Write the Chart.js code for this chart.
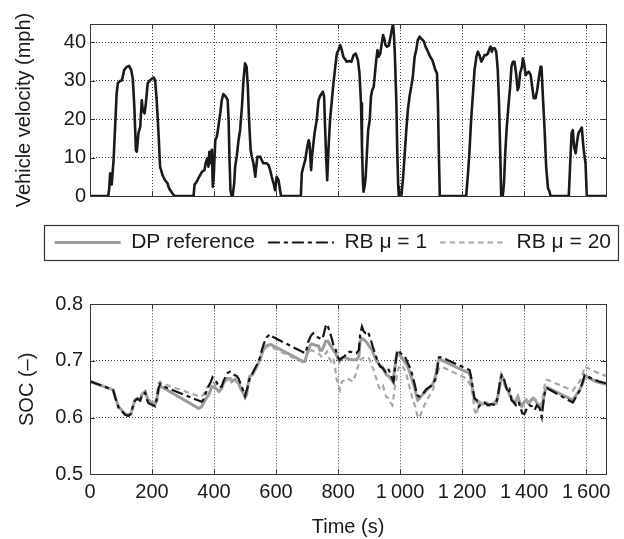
<!DOCTYPE html>
<html><head><meta charset="utf-8">
<script src="https://cdn.jsdelivr.net/npm/chart.js@4.4.1/dist/chart.umd.min.js"></script>
<style>
html,body{margin:0;padding:0;background:#fff;overflow:hidden;width:624px;height:539px}
#c1{position:absolute;left:0;top:0}
#c2{position:absolute;left:0;top:200px}
</style></head><body>
<canvas id="c1" width="624" height="215" style="width:624px;height:215px"></canvas>
<canvas id="c2" width="624" height="339" style="width:624px;height:339px"></canvas>
<script>
// ---- data ----
const velTime = [
 0, 59, 62, 65, 68, 70, 72, 76, 81, 86,
 90, 97, 103, 110, 119, 126, 133, 138, 143, 148,
 151, 156, 162, 167, 170, 176, 180, 186, 194, 205,
 210, 215, 221, 226, 234, 242, 250, 255, 262, 269,
 275, 334, 337, 344, 352, 361, 369, 373, 378, 382,
 385, 389, 393, 396, 399, 404, 409, 414, 420, 425,
 430, 436, 441, 444, 447, 450, 453, 457, 460, 465,
 468, 473, 479, 484, 490, 495, 500, 505, 509, 513,
 518, 522, 527, 533, 536, 540, 549, 554, 559, 570,
 576, 581, 586, 592, 597, 602, 608, 613, 616, 680,
 683, 688, 694, 699, 705, 708, 713, 717, 724, 731,
 737, 742, 751, 755, 758, 762, 765, 769, 774, 780,
 785, 791, 796, 801, 807, 812, 817, 828, 837, 843,
 850, 857, 864, 869, 874, 877, 880, 882, 886, 889,
 893, 897, 902, 906, 910, 915, 919, 923, 927, 931,
 936, 940, 945, 949, 953, 958, 964, 968, 973, 977,
 980, 983, 988, 991, 994, 996, 1004, 1009, 1015, 1020,
 1025, 1031, 1036, 1041, 1047, 1052, 1057, 1063, 1068, 1076,
 1082, 1090, 1097, 1104, 1109, 1114, 1119, 1122, 1125, 1128,
 1213, 1219, 1224, 1229, 1235, 1240, 1246, 1251, 1256, 1262,
 1267, 1272, 1278, 1283, 1289, 1292, 1296, 1299, 1305, 1310,
 1315, 1319, 1323, 1326, 1331, 1335, 1339, 1344, 1351, 1355,
 1359, 1364, 1369, 1374, 1379, 1383, 1387, 1393, 1396, 1400,
 1405, 1409, 1415, 1421, 1426, 1431, 1437, 1442, 1448, 1453,
 1456, 1460, 1466, 1471, 1477, 1482, 1485, 1544, 1549, 1553,
 1557, 1561, 1566, 1570, 1575, 1581, 1586, 1591, 1595, 1598,
 1602, 1664
];
const velMph = [
 0, 0, 2, 5.9, 5.5, 3, 5, 9.3, 18, 26.7,
 29.4, 29.9, 30.1, 32.7, 33.6, 33.8, 32.7, 30.5, 23.2, 11.9,
 11.5, 16.3, 18, 24.9, 22.3, 21.5, 24, 29.3, 30.1, 30.8,
 30.1, 24.9, 16.3, 7.6, 5.4, 4.1, 3.3, 2.0, 1.1, 0.3,
 0, 0, 2.9, 3.7, 5.0, 6.3, 6.7, 8.5, 9.8, 7.6,
 11.5, 8.5, 12, 2.4, 5, 14.5, 15.4, 18, 21.5, 24.9,
 26.5, 26, 25.4, 24.9, 19.7, 9.3, 1.5, 0, 0, 3.3,
 7.6, 10.2, 14.5, 17.1, 23.2, 30.1, 34.5, 33.6, 28.4, 19.7,
 12, 10.2, 8.5, 5.0, 7.6, 10.2, 10.2, 9.3, 8.5, 8.5,
 8.0, 6.7, 5.0, 3.3, 1.5, 5.0, 4.1, 1.5, 0, 0,
 5.9, 7.6, 9.3, 12, 14.5, 13.7, 6.7, 11.1, 16.3, 19.7,
 24.9, 26, 27.1, 25.8, 18, 9.3, 4.1, 12, 19.7, 24.9,
 29.3, 33.6, 37, 37.9, 39.2, 37.9, 36.2, 34.9, 35.1, 34.9,
 36.6, 37, 35.3, 31.9, 24.1, 12.8, 4.1, 1.1, 2.8, 5.0,
 11.1, 17.1, 19.7, 25.8, 27.5, 28.4, 31.9, 35.3, 37.9, 36.2,
 37, 39.2, 41.8, 40.9, 39.2, 38.8, 39.2, 40.9, 43.1, 44.7,
 42.2, 37, 24.1, 11.1, 2.4, 0, 0, 4.1, 11.1, 17.1,
 22.3, 26.2, 28.4, 31, 36.2, 37.9, 40.5, 41.4, 40.9, 40.3,
 38.8, 37.5, 36.2, 35.3, 34, 32.7, 31.9, 24.1, 11.1, 0,
 0, 5.9, 12, 19.7, 26.6, 32.7, 36.2, 37.5, 36.6, 34.9,
 35.7, 36.6, 36.6, 37, 38.4, 38.8, 37.5, 38.4, 38.4, 37.5,
 32.7, 24.1, 11.1, 0, 0, 3.3, 11.1, 18, 24.9, 28.4,
 33.6, 34.9, 34.9, 31.9, 27.5, 28.4, 31.9, 33.6, 35.7, 34.4,
 31.4, 31.9, 32.3, 31.4, 28.4, 25.4, 25.4, 27.5, 31, 33.6,
 33.6, 26.6, 17.1, 7.6, 2.0, 1.1, 0, 0, 9.3, 16.3,
 17.1, 12.8, 11.1, 13.7, 16.3, 17.1, 17.8, 12.8, 10.2, 8.5,
 0, 0
];

const dpTime = [0,70,75,81,92,102,113,124,133,138,145,153,162,167,172,178,183,188,194,201,210,215,221,226,232,350,360,371,382,387,393,401,409,416,425,430,438,444,452,457,463,468,473,479,487,495,500,505,511,516,522,527,532,538,543,549,554,559,565,572,583,688,694,699,704,710,715,726,737,742,748,753,760,767,771,778,785,792,799,804,812,822,837,848,859,867,871,877,885,893,902,910,918,925,934,942,950,957,966,971,977,982,988,993,998,1007,1014,1022,1031,1039,1047,1052,1057,1063,1071,1079,1086,1095,1104,1111,1116,1122,1127,1224,1229,1235,1240,1248,1256,1267,1278,1288,1299,1310,1315,1321,1326,1331,1337,1342,1348,1353,1358,1364,1369,1374,1380,1385,1393,1401,1407,1414,1421,1428,1436,1442,1450,1455,1463,1468,1474,1557,1568,1579,1589,1595,1600,1611,1622,1632,1643,1664];
const dpSoc = [0.664,0.650,0.649,0.637,0.619,0.6135,0.6065,0.605,0.608,0.619,0.631,0.634,0.631,0.640,0.643,0.646,0.637,0.631,0.628,0.6265,0.624,0.631,0.649,0.656,0.654,0.6165,0.619,0.631,0.640,0.646,0.655,0.6535,0.650,0.646,0.652,0.6606,0.6665,0.669,0.669,0.6635,0.6665,0.6677,0.6635,0.6606,0.650,0.643,0.636,0.640,0.6635,0.6735,0.675,0.679,0.684,0.690,0.696,0.703,0.7124,0.720,0.725,0.728,0.729,0.699,0.700,0.7106,0.719,0.728,0.730,0.728,0.7265,0.719,0.719,0.725,0.735,0.735,0.731,0.725,0.719,0.7135,0.705,0.699,0.705,0.706,0.703,0.702,0.702,0.7076,0.734,0.740,0.737,0.7324,0.725,0.719,0.7076,0.699,0.693,0.690,0.681,0.675,0.672,0.6677,0.6635,0.684,0.7076,0.7135,0.7106,0.705,0.699,0.693,0.681,0.6665,0.652,0.640,0.631,0.634,0.640,0.644,0.6488,0.6535,0.6577,0.6665,0.678,0.699,0.703,0.678,0.6665,0.646,0.631,0.628,0.625,0.624,0.6265,0.622,0.624,0.625,0.637,0.6547,0.6735,0.671,0.6606,0.6535,0.6488,0.640,0.637,0.628,0.625,0.631,0.637,0.628,0.6206,0.628,0.631,0.625,0.630,0.634,0.631,0.625,0.6195,0.6165,0.634,0.6488,0.6535,0.631,0.640,0.6488,0.6606,0.671,0.6735,0.669,0.6665,0.6635,0.662,0.659];

const rb1Time = [0,70,75,81,92,102,113,124,133,138,145,153,162,167,172,178,183,188,194,201,210,215,221,226,232,360,365,373,381,390,395,401,409,416,425,430,438,444,452,459,466,473,479,487,495,500,509,516,524,532,541,549,554,561,570,580,586,694,699,704,713,720,728,734,741,747,753,760,765,771,778,785,793,799,805,812,822,826,837,848,859,867,871,877,883,889,896,904,912,921,928,936,945,953,961,966,974,979,984,990,995,1002,1009,1018,1025,1033,1041,1049,1054,1061,1068,1076,1084,1093,1100,1108,1114,1119,1125,1133,1224,1229,1235,1240,1248,1254,1262,1272,1283,1294,1308,1315,1323,1328,1334,1340,1348,1353,1359,1366,1374,1382,1387,1394,1401,1409,1417,1426,1434,1441,1450,1457,1463,1468,1474,1557,1568,1579,1589,1595,1606,1622,1643,1664];
const rb1Soc = [0.664,0.650,0.648,0.636,0.618,0.612,0.605,0.603,0.607,0.619,0.630,0.633,0.630,0.639,0.642,0.644,0.633,0.626,0.624,0.6225,0.620,0.632,0.652,0.6594,0.656,0.628,0.631,0.643,0.6535,0.6635,0.671,0.6665,0.662,0.6535,0.655,0.6635,0.6735,0.679,0.681,0.678,0.675,0.6735,0.669,0.6577,0.646,0.638,0.655,0.6725,0.678,0.687,0.696,0.7076,0.719,0.731,0.742,0.747,0.7435,0.7135,0.722,0.734,0.7453,0.7488,0.7453,0.742,0.740,0.738,0.7453,0.7612,0.765,0.755,0.743,0.728,0.719,0.7076,0.7018,0.705,0.709,0.7135,0.7165,0.715,0.7135,0.719,0.746,0.7606,0.7518,0.749,0.7518,0.740,0.725,0.7106,0.699,0.690,0.687,0.681,0.687,0.681,0.6694,0.6635,0.690,0.7165,0.7194,0.7135,0.7106,0.705,0.696,0.687,0.6724,0.6547,0.640,0.637,0.640,0.644,0.650,0.6535,0.656,0.6606,0.6694,0.681,0.7065,0.7065,0.684,0.6724,0.649,0.634,0.631,0.6194,0.624,0.6265,0.622,0.624,0.622,0.637,0.6665,0.675,0.671,0.6577,0.643,0.6488,0.631,0.628,0.622,0.628,0.6194,0.6077,0.6065,0.6165,0.622,0.6194,0.6135,0.622,0.6165,0.601,0.631,0.6488,0.652,0.6265,0.637,0.6477,0.6635,0.6753,0.6724,0.668,0.6635,0.6606];

const rb20Time = [0,70,75,81,92,102,113,124,133,138,145,153,162,167,172,178,183,188,194,201,210,215,221,226,232,355,366,376,387,395,403,414,425,436,444,455,468,479,490,500,509,516,527,538,549,559,570,583,688,694,704,713,726,737,748,756,764,771,778,785,790,795,801,806,812,822,826,837,848,856,864,871,880,891,899,907,914,923,931,936,945,950,955,964,969,975,980,985,993,1000,1009,1018,1025,1033,1041,1049,1055,1061,1068,1076,1084,1093,1100,1108,1116,1125,1133,1213,1224,1233,1240,1246,1256,1267,1278,1288,1299,1310,1318,1326,1334,1340,1348,1353,1361,1369,1377,1383,1391,1398,1407,1415,1423,1430,1439,1447,1455,1463,1469,1476,1557,1568,1579,1589,1595,1606,1622,1643,1664];
const rb20Soc = [0.664,0.650,0.649,0.638,0.620,0.614,0.607,0.606,0.609,0.620,0.632,0.635,0.632,0.641,0.644,0.647,0.639,0.633,0.630,0.628,0.627,0.640,0.6606,0.6635,0.6606,0.637,0.640,0.652,0.660,0.6635,0.659,0.652,0.654,0.662,0.667,0.668,0.6665,0.6606,0.6535,0.642,0.652,0.669,0.678,0.691,0.703,0.718,0.725,0.725,0.697,0.703,0.7147,0.719,0.7165,0.7135,0.7065,0.7106,0.7165,0.705,0.699,0.705,0.690,0.669,0.6577,0.649,0.6635,0.6665,0.6694,0.667,0.6635,0.675,0.690,0.7018,0.705,0.7076,0.705,0.696,0.684,0.6694,0.6547,0.650,0.656,0.646,0.637,0.634,0.6265,0.622,0.640,0.6606,0.684,0.693,0.690,0.681,0.6665,0.6488,0.631,0.6194,0.6047,0.599,0.6077,0.6194,0.628,0.637,0.643,0.652,0.6694,0.687,0.690,0.6694,0.6606,0.643,0.6135,0.6047,0.628,0.624,0.6265,0.6206,0.6253,0.631,0.6488,0.677,0.6665,0.6535,0.650,0.643,0.634,0.625,0.634,0.625,0.6194,0.6224,0.631,0.628,0.631,0.6355,0.631,0.625,0.622,0.6457,0.6665,0.6665,0.6477,0.656,0.6635,0.677,0.690,0.687,0.683,0.678,0.6735];

const seriesNames = ['DP reference', 'RB \u03bc = 1', 'RB \u03bc = 20'];
const velTickLabels = ['0', '10', '20', '30', '40'];
const socTickLabels = ['0.5', '0.6', '0.7', '0.8'];
const timeTickLabels = ['0', '200', '400', '600', '800', '1\u2009000', '1\u2009200', '1\u2009400', '1\u2009600'];

// ---- helpers / styling ----
const toPoints = (ts, vs) => ts.map((t, i) => ({x: t, y: vs[i]}));
const FONT = "'Liberation Sans', Arial, Helvetica, sans-serif";
const INK = '#1a1a1a';
const GRID = '#4a4a4a';
const FRAME = '#333333';
Chart.defaults.font.family = FONT;
Chart.defaults.color = INK;

const framePlugin = {
  id: 'frame',
  afterDraw(chart) {
    const {ctx, chartArea: a} = chart;
    const xs = chart.scales.x, ys = chart.scales.y;
    ctx.save();
    ctx.strokeStyle = FRAME; ctx.lineWidth = 1; ctx.setLineDash([]);
    ctx.beginPath();
    xs.ticks.forEach(t => {
      const p = Math.round(xs.getPixelForValue(t.value)) + 0.5;
      ctx.moveTo(p, a.bottom); ctx.lineTo(p, a.bottom - 5);
      ctx.moveTo(p, a.top); ctx.lineTo(p, a.top + 5);
    });
    ys.ticks.forEach(t => {
      const p = Math.round(ys.getPixelForValue(t.value)) + 0.5;
      ctx.moveTo(a.left, p); ctx.lineTo(a.left + 5, p);
      ctx.moveTo(a.right, p); ctx.lineTo(a.right - 5, p);
    });
    ctx.stroke();
    ctx.strokeRect(Math.round(a.left) + 0.5, Math.round(a.top) + 0.5,
                   Math.round(a.right - a.left), Math.round(a.bottom - a.top));
    ctx.restore();
  }
};
const legendFramePlugin = {
  id: 'legendFrame',
  afterDraw(chart) {
    const lg = chart.legend;
    if (!lg || !lg.legendHitBoxes || !lg.legendHitBoxes.length) return;
    const hb = lg.legendHitBoxes;
    const f = hb[0], l = hb[hb.length - 1];
    const x0 = Math.round(f.left - 11) + 0.5, x1 = Math.round(l.left + l.width + 7) + 0.5;
    const y0 = Math.round(f.top - 7) + 0.5, y1 = Math.round(f.top + f.height + 7) + 0.5;
    const ctx = chart.ctx;
    ctx.save();
    ctx.strokeStyle = '#333'; ctx.lineWidth = 1.2; ctx.setLineDash([]);
    ctx.strokeRect(x0, y0, x1 - x0, y1 - y0);
    ctx.restore();
  }
};

const gridOpts = {color: GRID, lineWidth: 1, drawTicks: false};
const borderOpts = {display: false, dash: [1, 2]};

// ---- top chart: velocity ----
new Chart(document.getElementById('c1'), {
  type: 'line',
  data: {datasets: [{
    label: 'Vehicle velocity',
    data: toPoints(velTime, velMph),
    borderColor: '#1a1a1a', borderWidth: 2.6, pointRadius: 0, tension: 0, fill: false,
    borderJoinStyle: 'round'
  }]},
  options: {
    responsive: false, animation: false, events: [],
    layout: {padding: {top: 24, left: 0, right: 18, bottom: 19}},
    plugins: {legend: {display: false}, tooltip: {enabled: false}},
    scales: {
      x: {type: 'linear', min: 0, max: 1664,
          ticks: {display: false, stepSize: 200, includeBounds: false},
          grid: gridOpts, border: borderOpts,
          afterFit(s) { s.height = 0; }},
      y: {type: 'linear', min: 0, max: 44.7,
          ticks: {stepSize: 10, includeBounds: false, padding: 4, color: INK,
                  font: {family: FONT, size: 20},
                  callback: v => velTickLabels[Math.round(v / 10)] ?? ''},
          grid: gridOpts, border: borderOpts,
          title: {display: true, text: 'Vehicle velocity (mph)', color: INK,
                  font: {family: FONT, size: 20}, padding: {top: 12, bottom: 0}},
          afterFit(s) { s.width = 90; }}
    }
  },
  plugins: [framePlugin]
});

// ---- bottom chart: SOC ----
new Chart(document.getElementById('c2'), {
  type: 'line',
  data: {datasets: [
    {label: seriesNames[0], data: toPoints(dpTime, dpSoc), borderColor: '#9b9b9b', borderWidth: 3,
     pointRadius: 0, tension: 0, fill: false, order: 3},
    {label: seriesNames[1], data: toPoints(rb1Time, rb1Soc), borderColor: '#151515', borderWidth: 2.2,
     borderDash: [12, 4, 4, 4], pointRadius: 0, tension: 0, fill: false, order: 1},
    {label: seriesNames[2], data: toPoints(rb20Time, rb20Soc), borderColor: '#a8a8a8', borderWidth: 2.2,
     borderDash: [5.5, 4], pointRadius: 0, tension: 0, fill: false, order: 2}
  ]},
  options: {
    responsive: false, animation: false, events: [],
    layout: {padding: {top: 19, left: 0, right: 0, bottom: 0}},
    plugins: {
      tooltip: {enabled: false},
      legend: {display: true, position: 'top', align: 'end', weight: 3000,
               labels: {usePointStyle: true, pointStyle: 'line', pointStyleWidth: 66,
                        padding: 13, color: INK, font: {family: FONT, size: 21},
                        sort: (a, b) => a.datasetIndex - b.datasetIndex,
                        generateLabels(chart) {
                          const items = Chart.defaults.plugins.legend.labels.generateLabels(chart);
                          items.forEach(it => {
                            const ds = chart.data.datasets[it.datasetIndex];
                            it.lineDash = ds.borderDash || [];
                            it.lineWidth = ds.borderWidth;
                            it.strokeStyle = ds.borderColor;
                            it.fillStyle = ds.borderColor;
                          });
                          return items;
                        }}},
      title: {display: true, text: '', font: {size: 10}, padding: {top: 29.3, bottom: 0}}
    },
    scales: {
      x: {type: 'linear', min: 0, max: 1664,
          ticks: {stepSize: 200, includeBounds: false, padding: 6, color: INK, maxRotation: 0,
                  autoSkip: false, font: {family: FONT, size: 20},
                  callback: v => timeTickLabels[Math.round(v / 200)] ?? ''},
          grid: gridOpts, border: borderOpts,
          title: {display: true, text: 'Time (s)', color: INK, font: {family: FONT, size: 20},
                  padding: {top: 0, bottom: 0}},
          afterFit(s) { s.height = 64.7; }},
      y: {type: 'linear', min: 0.5, max: 0.8,
          ticks: {stepSize: 0.1, padding: 7, color: INK, font: {family: FONT, size: 20},
                  callback: v => socTickLabels[Math.round((v - 0.5) / 0.1)] ?? ''},
          grid: gridOpts, border: borderOpts,
          title: {display: true, text: 'SOC (\u2013)', color: INK, font: {family: FONT, size: 20},
                  padding: {top: 15, bottom: 0}},
          afterFit(s) { s.width = 90; }},
      yRight: {type: 'linear', position: 'right', display: true,
               grid: {display: false}, ticks: {display: false}, border: {display: false},
               afterFit(s) { s.width = 18; }}
    }
  },
  plugins: [framePlugin, legendFramePlugin]
});
</script>
</body></html>
